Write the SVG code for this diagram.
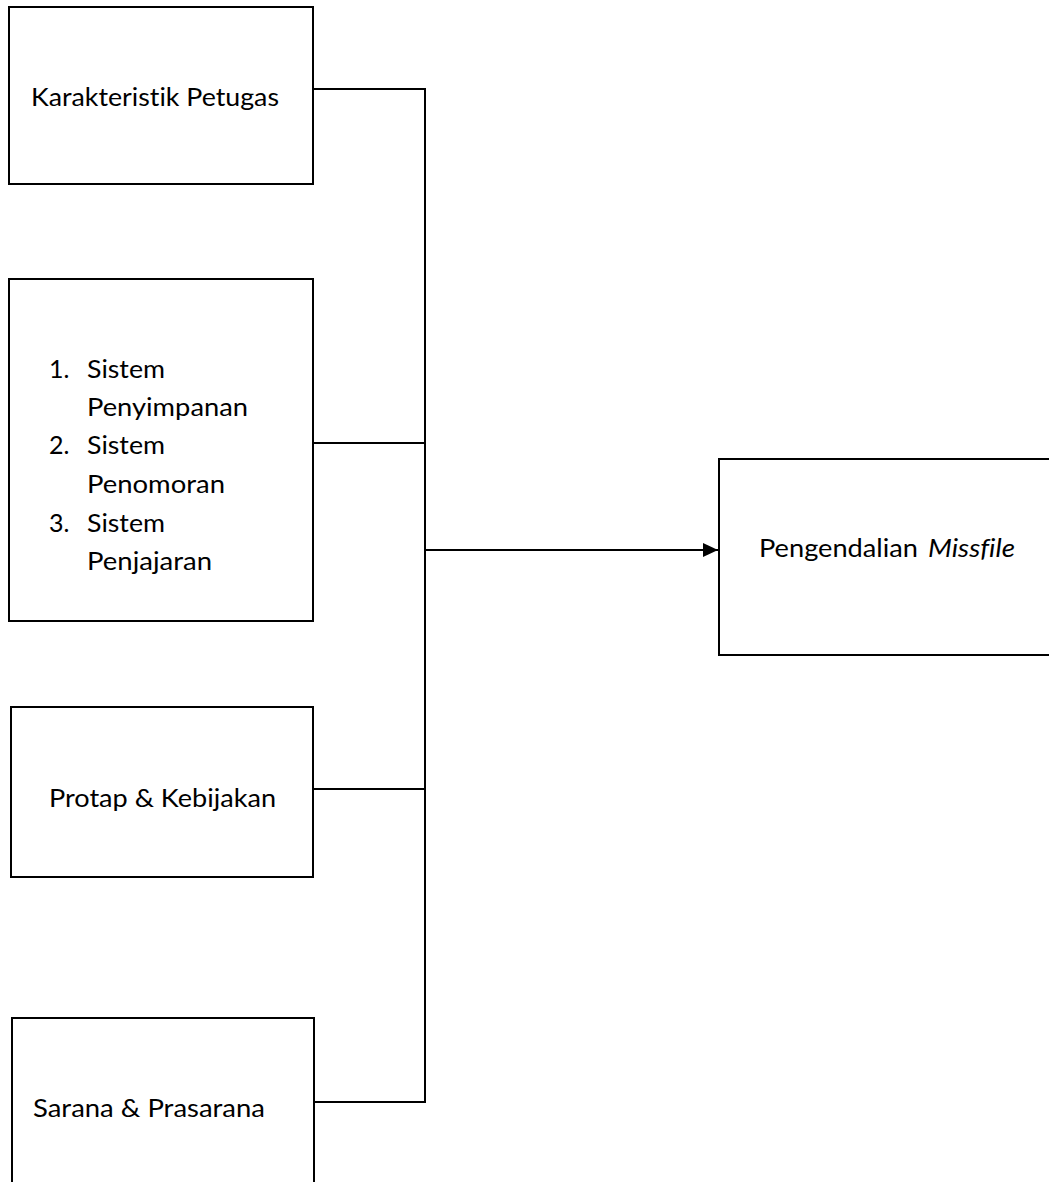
<svg xmlns="http://www.w3.org/2000/svg" width="1049" height="1182" viewBox="0 0 1049 1182">
<style>
.box{fill:#fff;stroke:#000;stroke-width:2}
.ln{fill:none;stroke:#000;stroke-width:2}
text{font-family:Lato,"Open Sans","Liberation Sans",sans-serif;font-size:25px;fill:#000;font-variant-ligatures:none}
</style>
<defs>
<marker id="ah" markerUnits="userSpaceOnUse" markerWidth="16" markerHeight="16" refX="15" refY="7" orient="auto">
<path d="M0,0 L15,7 L0,14 Z" fill="#000"/>
</marker>
</defs>
<rect width="1049" height="1182" fill="#fff"/>
<g id="connectors">
<path class="ln" d="M313,89 H425 V1102 H314"/>
<path class="ln" d="M313,443 H425"/>
<path class="ln" d="M313,789 H425"/>
<path class="ln" d="M425,550 H718" marker-end="url(#ah)"/>
</g>
<g id="karakteristik">
<rect class="box" x="9" y="7" width="304" height="177"/>
<text x="31" y="106" textLength="248" lengthAdjust="spacingAndGlyphs">Karakteristik Petugas</text>
</g>
<g id="sistem">
<rect class="box" x="9" y="279" width="304" height="342"/>
<text x="49" y="378">1.</text>
<text x="87" y="378" textLength="78" lengthAdjust="spacingAndGlyphs">Sistem</text>
<text x="87" y="416" textLength="161" lengthAdjust="spacingAndGlyphs">Penyimpanan</text>
<text x="49" y="454">2.</text>
<text x="87" y="454" textLength="78" lengthAdjust="spacingAndGlyphs">Sistem</text>
<text x="87" y="493" textLength="138" lengthAdjust="spacingAndGlyphs">Penomoran</text>
<text x="49" y="532">3.</text>
<text x="87" y="532" textLength="78" lengthAdjust="spacingAndGlyphs">Sistem</text>
<text x="87" y="570" textLength="125" lengthAdjust="spacingAndGlyphs">Penjajaran</text>
</g>
<g id="protap">
<rect class="box" x="11" y="707" width="302" height="170"/>
<text x="49" y="807" textLength="227" lengthAdjust="spacingAndGlyphs">Protap &amp; Kebijakan</text>
</g>
<g id="sarana">
<rect class="box" x="12" y="1018" width="302" height="200"/>
<text x="33" y="1117" textLength="232" lengthAdjust="spacingAndGlyphs">Sarana &amp; Prasarana</text>
</g>
<g id="pengendalian">
<rect class="box" x="719" y="459" width="360" height="196"/>
<text x="759" y="557" textLength="159" lengthAdjust="spacingAndGlyphs">Pengendalian</text>
<text x="928" y="557" font-style="italic" textLength="87" lengthAdjust="spacingAndGlyphs">Missfile</text>
</g>
</svg>
